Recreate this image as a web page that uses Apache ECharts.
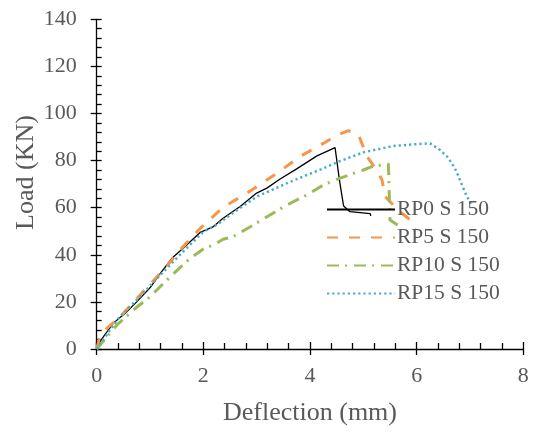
<!DOCTYPE html>
<html>
<head>
<meta charset="utf-8">
<script src="https://cdn.jsdelivr.net/npm/echarts@6/dist/echarts.min.js"></script>
<style>
  html, body { margin: 0; padding: 0; background: #fff; }
  #chart { width: 537px; height: 432px; }
</style>
</head>
<body>
<div id="chart"></div>
<script>
// Load–deflection curves for the four RP specimens (deflection in mm, load in kN)
const seriesNames = ['RP0 S 150', 'RP5 S 150', 'RP10 S 150', 'RP15 S 150'];

const rp0Deflection = [0, 0.15, 0.31, 0.55, 0.75, 1.0, 1.19, 1.41, 1.62, 1.94, 2.19, 2.37, 2.69, 3.0, 3.19, 3.44, 3.75, 4.13, 4.47, 4.55, 4.63, 4.75, 5.13, 5.14];
const rp0Load       = [1, 6, 10.9, 15.5, 20, 26, 32, 38.5, 42.8, 49.5, 52, 55.5, 60.5, 66.2, 68.3, 72.2, 76.5, 82, 85.5, 72, 60.7, 58.3, 57.5, 56.5];

const rp5Deflection = [0, 0.05, 0.19, 0.44, 0.87, 1.31, 1.56, 1.94, 2.37, 2.81, 3.38, 3.81, 4.25, 4.47, 4.72, 4.91, 5.07, 5.25, 5.35, 5.41, 5.65, 5.88, 5.97];
const rp5Load       = [0, 4.5, 8.8, 13.7, 24.3, 35, 42, 51.2, 60.2, 66.1, 74.6, 81.7, 87.3, 90.4, 92.7, 90.9, 81.7, 76, 71.8, 64.7, 59, 54.8, 50.5];

const rp10Deflection = [0, 0.19, 0.38, 0.69, 1.0, 1.38, 1.75, 2.0, 2.19, 2.37, 2.56, 2.88, 3.25, 3.56, 3.94, 4.25, 4.47, 5.0, 5.16, 5.47, 5.49, 5.5, 5.69];
const rp10Load       = [0, 5.2, 10.2, 16.6, 22.2, 30.7, 38.5, 42.5, 44.2, 46.6, 47.7, 51.9, 56.9, 61.1, 65.4, 69.6, 71.8, 76, 77.4, 78.6, 63, 54.8, 51.9];

const rp15Deflection = [0, 0.38, 0.75, 1.19, 1.62, 2.0, 2.25, 2.5, 3.0, 3.63, 4.25, 4.53, 5.0, 5.56, 6.0, 6.25, 6.44, 6.57, 6.66, 6.75, 6.85, 6.93, 7.03];
const rp15Load       = [0, 12.3, 20.8, 31.4, 41.3, 49.8, 52.7, 56.9, 64.7, 71, 76.7, 79.5, 83.5, 86.2, 87, 87.3, 84.5, 81.7, 78.9, 75.3, 69.6, 65.4, 61];

const xTicks = [0, 2, 4, 6, 8];
const yTicks = [0, 20, 40, 60, 80, 100, 120, 140];

const pairs = (xs, ys) => xs.map((x, i) => [x, ys[i]]);

const FONT = '"Liberation Serif", "Times New Roman", serif';
const TEXT = '#595959';

const grid = { left: 96.7, right: 13.7, top: 19.3, bottom: 83 };

const xBase = {
  type: 'value', min: xTicks[0], max: xTicks[xTicks.length - 1], interval: 2,
  splitLine: { show: false }
};
const yBase = {
  type: 'value', min: yTicks[0], max: yTicks[yTicks.length - 1], interval: 20,
  splitLine: { show: false }
};

const lineSeries = (name, data, color, width, dash) => ({
  name, type: 'line', data,
  xAxisIndex: 0, yAxisIndex: 0,
  showSymbol: false, symbol: 'none', smooth: false,
  lineStyle: { color, width, type: dash, cap: 'butt' },
  itemStyle: { color },
  emphasis: { disabled: true }
});

const chart = echarts.init(document.getElementById('chart'), null, { renderer: 'canvas' });

chart.setOption({
  animation: false,
  backgroundColor: '#fff',
  grid,
  xAxis: [
    Object.assign({}, xBase, {
      axisLine: { lineStyle: { color: '#000', width: 1.3 } },
      axisTick: { inside: true, length: 7, lineStyle: { color: '#000', width: 1.3 } },
      minorTick: { show: true, splitNumber: 5, length: 6, lineStyle: { color: '#000', width: 1.3 } },
      axisLabel: { margin: 16, color: TEXT, fontFamily: FONT, fontSize: 22 }
    }),
    Object.assign({}, xBase, {
      position: 'bottom',
      axisLine: { show: false },
      axisTick: { inside: false, length: 6, lineStyle: { color: '#000', width: 1.3 } },
      axisLabel: { show: false }
    })
  ],
  yAxis: [
    Object.assign({}, yBase, {
      axisLine: { show: true, lineStyle: { color: '#000', width: 1.3 } },
      axisTick: { show: true, inside: true, length: 5, lineStyle: { color: '#000', width: 1.3 } },
      minorTick: { show: true, splitNumber: 5, length: 5, lineStyle: { color: '#000', width: 1.3 } },
      axisLabel: { margin: 20, color: TEXT, fontFamily: FONT, fontSize: 22 }
    }),
    Object.assign({}, yBase, {
      position: 'left',
      axisLine: { show: false },
      axisTick: { show: true, inside: false, length: 6, lineStyle: { color: '#000', width: 1.3 } },
      axisLabel: { show: false }
    })
  ],
  legend: {
    orient: 'vertical',
    left: 321,
    top: 193.5,
    itemWidth: 68,
    itemHeight: 14,
    itemGap: 6,
    data: seriesNames,
    itemStyle: { opacity: 0 },
    textStyle: { color: TEXT, fontFamily: FONT, fontSize: 21.5, padding: [0, 0, 0, -3] },
    selectedMode: false
  },
  graphic: [
    {
      type: 'text', x: 26, y: 172.5, rotation: Math.PI / 2,
      style: { text: 'Load (KN)', fill: TEXT, font: '26px ' + FONT, align: 'center', verticalAlign: 'middle' }
    },
    {
      type: 'text', x: 310, y: 413,
      style: { text: 'Deflection (mm)', fill: TEXT, font: '26px ' + FONT, align: 'center', verticalAlign: 'middle' }
    }
  ],
  series: [
    lineSeries(seriesNames[0], pairs(rp0Deflection, rp0Load), '#000000', 1.3, 'solid'),
    lineSeries(seriesNames[1], pairs(rp5Deflection, rp5Load), '#F79646', 3, [11, 11]),
    lineSeries(seriesNames[2], pairs(rp10Deflection, rp10Load), '#9BBB59', 3, [12, 6, 2, 7]),
    lineSeries(seriesNames[3], pairs(rp15Deflection, rp15Load), '#4BACC6', 2.5, [2.2, 3])
  ]
});
</script>
</body>
</html>
